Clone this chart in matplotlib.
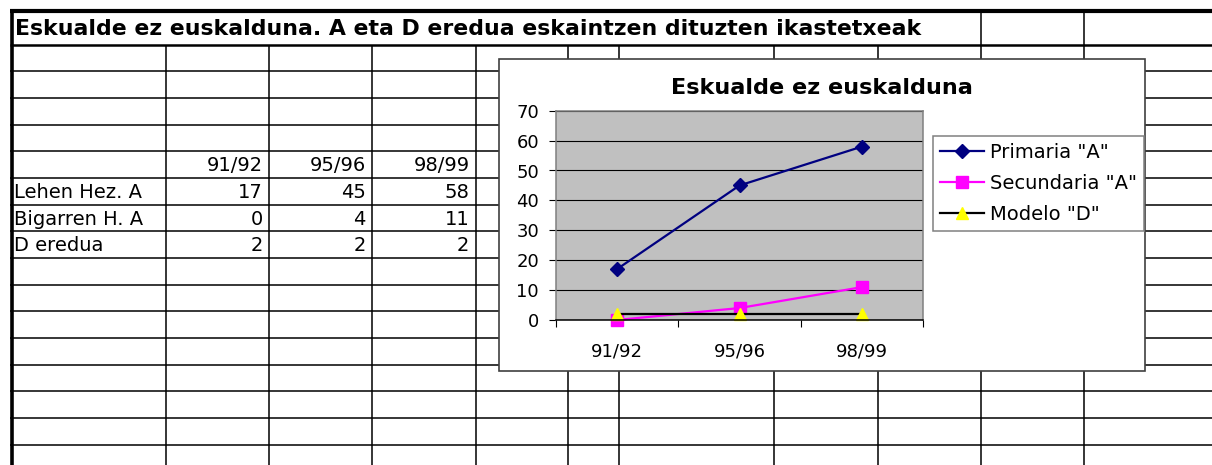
import numpy as np
import matplotlib
matplotlib.use('Agg')
import matplotlib.pyplot as plt
from matplotlib.patches import Rectangle

W, H = 1212, 465

sheet_title = 'Eskualde ez euskalduna. A eta D eredua eskaintzen dituzten ikastetxeak'
chart_title = 'Eskualde ez euskalduna'
years = ['91/92', '95/96', '98/99']
row_labels = ['Lehen Hez. A', 'Bigarren H. A', 'D eredua']
lehen = [17, 45, 58]
bigarren = [0, 4, 11]
d_eredua = [2, 2, 2]
series_names = ['Primaria "A"', 'Secundaria "A"', 'Modelo "D"']

plt.rcParams['font.family'] = ['DejaVu Sans']

fig = plt.figure(figsize=(W / 100, H / 100), dpi=100)
bg = fig.add_axes([0, 0, 1, 1])
bg.set_xlim(0, W)
bg.set_ylim(H, 0)
bg.axis('off')

# spreadsheet grid, pixel coords
col_x = [165.7, 269, 372.3, 476, 568.3, 619, 774.3, 877.7, 981.3, 1084.3]
row_h = 26.67
row_y = 44.7 + row_h * np.arange(17)

for y in row_y[1:]:
    bg.plot([10, W], [y, y], color='black', lw=1.1, solid_capstyle='butt')
bg.plot([10, W], [row_y[0], row_y[0]], color='black', lw=1.8, solid_capstyle='butt')
for x in col_x:
    bg.plot([x, x], [row_y[0], H], color='black', lw=1.1, solid_capstyle='butt')
for x in col_x[-2:]:
    bg.plot([x, x], [11, row_y[0]], color='black', lw=1.1, solid_capstyle='butt')
bg.plot([9.5, W], [11.3, 11.3], color='black', lw=3, solid_capstyle='butt')
bg.plot([11.5, 11.5], [9.5, H], color='black', lw=2.6, solid_capstyle='butt')

bg.text(15, 35, sheet_title, fontsize=15.8, fontweight='bold', ha='left', va='baseline')

# the data block
hdr = 4
for j, yr in enumerate(years):
    bg.text(col_x[j + 1] - 6.5, row_y[hdr + 1] - 6.6, yr, fontsize=14, ha='right', va='baseline')
table_vals = [lehen, bigarren, d_eredua]
for i, (lab, vals) in enumerate(zip(row_labels, table_vals)):
    yb = row_y[hdr + 2 + i] - 6.6
    bg.text(14, yb, lab, fontsize=14, ha='left', va='baseline')
    for j, v in enumerate(vals):
        bg.text(col_x[j + 1] - 6.5, yb, str(v), fontsize=14, ha='right', va='baseline')

# embedded chart
bg.add_patch(Rectangle((499, 59), 646, 312, facecolor='white', edgecolor='#404040', lw=1.2, zorder=5))
bg.text(822, 93.5, chart_title, fontsize=16.1, fontweight='bold', ha='center', va='baseline', zorder=6)

ax = fig.add_axes([555.7 / W, 1 - 320 / H, (923.3 - 555.7) / W, (320 - 110.7) / H])
ax.set_facecolor('#C0C0C0')
x = np.arange(len(years))
ax.plot(x, lehen, color='#000080', lw=1.6, marker='D', ms=7, clip_on=False, label=series_names[0])
ax.plot(x, bigarren, color='#FF00FF', lw=1.6, marker='s', ms=8.5, clip_on=False, label=series_names[1])
ax.plot(x, d_eredua, color='black', lw=1.6, marker='^', ms=9, mfc='#FFFF00', mec='#FFFF00',
        clip_on=False, label=series_names[2])
ax.set_xlim(-0.5, 2.5)
ax.set_ylim(0, 70)
ax.set_yticks(range(0, 71, 10))
ax.yaxis.grid(True, color='black', lw=0.8)
ax.set_axisbelow(True)
ax.set_xticks(x)
ax.set_xticklabels(years)
ax.set_xticks([-0.5, 0.5, 1.5, 2.5], minor=True)
ax.tick_params(axis='x', which='major', length=0, pad=16, labelsize=13)
ax.tick_params(axis='x', which='minor', length=5, width=0.8, direction='out')
ax.tick_params(axis='y', length=5, width=0.8, pad=7, labelsize=13)
for s in ax.spines.values():
    s.set_color('#808080')
    s.set_linewidth(1.1)
ax.spines['bottom'].set_color('black')

leg = ax.legend(loc='upper left', bbox_to_anchor=(932.7 / W, 1 - 136 / H),
                bbox_transform=fig.transFigure, borderaxespad=0, fontsize=14,
                handlelength=2.3, handletextpad=0.3, borderpad=0.35, labelspacing=0.63,
                frameon=True, fancybox=False, edgecolor='#808080', framealpha=1, numpoints=1)
leg.get_frame().set_linewidth(1.1)

fig.savefig('out.png', dpi=100)
